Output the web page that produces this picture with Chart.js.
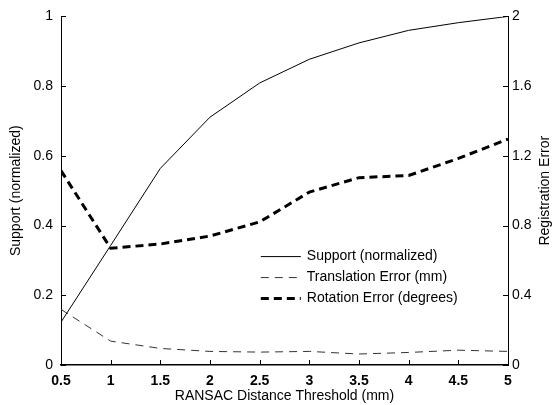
<!DOCTYPE html>
<html>
<head>
<meta charset="utf-8">
<script src="https://cdn.jsdelivr.net/npm/chart.js@4.4.1/dist/chart.umd.min.js"></script>
<style>
  html, body { margin: 0; padding: 0; background: #fff; }
  #wrap { width: 555px; height: 405px; }
</style>
</head>
<body>
<div id="wrap"><canvas id="myChart"></canvas></div>
<script>
// RANSAC distance thresholds (mm)
const thresholds = [0.5, 1, 1.5, 2, 2.5, 3, 3.5, 4, 4.5, 5];
// left axis
const support = [0.123, 0.343, 0.564, 0.711, 0.809, 0.877, 0.924, 0.960, 0.982, 1.0];
// right axis
const translationErr = [0.319, 0.137, 0.095, 0.078, 0.074, 0.078, 0.063, 0.072, 0.085, 0.078];
const rotationErr = [1.115, 0.670, 0.694, 0.740, 0.821, 0.992, 1.075, 1.087, 1.185, 1.296];

const seriesLabels = ['Support (normalized)', 'Translation Error (mm)', 'Rotation Error (degrees)'];
const rightTitle = 'Registration Error';

const pts = (ys) => thresholds.map((x, i) => ({x: x, y: ys[i]}));
const fmt = (v) => String(+Number(v).toFixed(2));

const FONT = '"Liberation Sans", Arial, sans-serif';
Chart.defaults.font.family = FONT;
Chart.defaults.color = '#000';

// MATLAB style ticks pointing into the plot
const inwardTicks = {
    id: 'inwardTicks',
    afterDraw(chart) {
        const c = chart.ctx, a = chart.chartArea;
        c.save();
        c.strokeStyle = '#000';
        c.lineWidth = 1;
        const len = 5;
        chart.scales.x.ticks.forEach(t => {
            const px = Math.round(chart.scales.x.getPixelForValue(t.value)) + 0.5;
            c.beginPath(); c.moveTo(px, a.bottom); c.lineTo(px, a.bottom - len); c.stroke();
        });
        chart.scales.y.ticks.forEach(t => {
            const py = Math.round(chart.scales.y.getPixelForValue(t.value)) + 0.5;
            c.beginPath(); c.moveTo(a.left, py); c.lineTo(a.left + len, py); c.stroke();
        });
        chart.scales.y2.ticks.forEach(t => {
            const py = Math.round(chart.scales.y2.getPixelForValue(t.value)) + 0.5;
            c.beginPath(); c.moveTo(a.right, py); c.lineTo(a.right - len, py); c.stroke();
        });
        // right axis title, reading bottom to top
        c.font = '14px ' + FONT;
        c.fillStyle = '#000';
        c.textAlign = 'center';
        c.textBaseline = 'middle';
        c.translate(chart.width - 10, (a.top + a.bottom) / 2);
        c.rotate(-Math.PI / 2);
        c.fillText(rightTitle, 0, 0);
        c.restore();
    }
};

// legend inside the plot, no frame
const innerLegend = {
    id: 'innerLegend',
    afterDraw(chart) {
        const c = chart.ctx, a = chart.chartArea;
        const x0 = a.left + (a.right - a.left) * 0.447;
        let y = a.top + (a.bottom - a.top) * 0.689;
        c.save();
        c.font = '14px ' + FONT;
        c.textBaseline = 'middle';
        chart.data.datasets.forEach(ds => {
            c.strokeStyle = ds.borderColor;
            c.lineWidth = ds.borderWidth;
            c.setLineDash(ds.borderDash || []);
            c.beginPath(); c.moveTo(x0, y); c.lineTo(x0 + 40, y); c.stroke();
            c.setLineDash([]);
            c.fillStyle = '#000';
            c.fillText(ds.label, x0 + 46, y);
            y += 21;
        });
        c.restore();
    }
};

new Chart(document.getElementById('myChart'), {
    type: 'line',
    data: {
        datasets: [{
            label: seriesLabels[0],
            data: pts(support),
            yAxisID: 'y',
            borderColor: '#000',
            borderWidth: 1,
        }, {
            label: seriesLabels[1],
            data: pts(translationErr),
            yAxisID: 'y2',
            borderColor: '#333',
            borderWidth: 1,
            borderDash: [8, 6],
        }, {
            label: seriesLabels[2],
            data: pts(rotationErr),
            yAxisID: 'y2',
            borderColor: '#000',
            borderWidth: 3,
            borderDash: [8, 5],
        }],
    },
    options: {
        responsive: true,
        maintainAspectRatio: false,
        animation: false,
        elements: {point: {radius: 0}, line: {tension: 0}},
        layout: {padding: {top: 10, left: 0, right: 0, bottom: 0}},
        plugins: {legend: {display: false}, tooltip: {enabled: false}},
        scales: {
            x: {
                type: 'linear',
                min: 0.5,
                max: 5,
                grid: {display: false, drawTicks: false},
                border: {display: true, color: '#000', width: 1.5},
                ticks: {stepSize: 0.5, padding: 8, font: {size: 14, weight: 'bold'}, callback: fmt},
                title: {display: true, text: 'RANSAC Distance Threshold (mm)', font: {size: 14}, padding: {top: 5, bottom: 0}},
                afterFit: s => { s.height = 40; },
            },
            y: {
                position: 'left',
                min: 0,
                max: 1,
                grid: {display: false, drawTicks: false},
                border: {display: true, color: '#000', width: 1},
                ticks: {stepSize: 0.2, padding: 8, font: {size: 14}, callback: fmt},
                title: {display: true, text: 'Support (normalized)', font: {size: 14}, padding: {top: 8, bottom: 0}},
                afterFit: s => { s.width = 61; },
            },
            y2: {
                position: 'right',
                min: 0,
                max: 2,
                grid: {display: false, drawTicks: false},
                border: {display: true, color: '#000', width: 1},
                ticks: {stepSize: 0.4, padding: 4, font: {size: 14}, callback: fmt},
                title: {display: false},
                afterFit: s => { s.width = 47; },
            },
        },
    },
    plugins: [inwardTicks, innerLegend],
});
</script>
</body>
</html>
